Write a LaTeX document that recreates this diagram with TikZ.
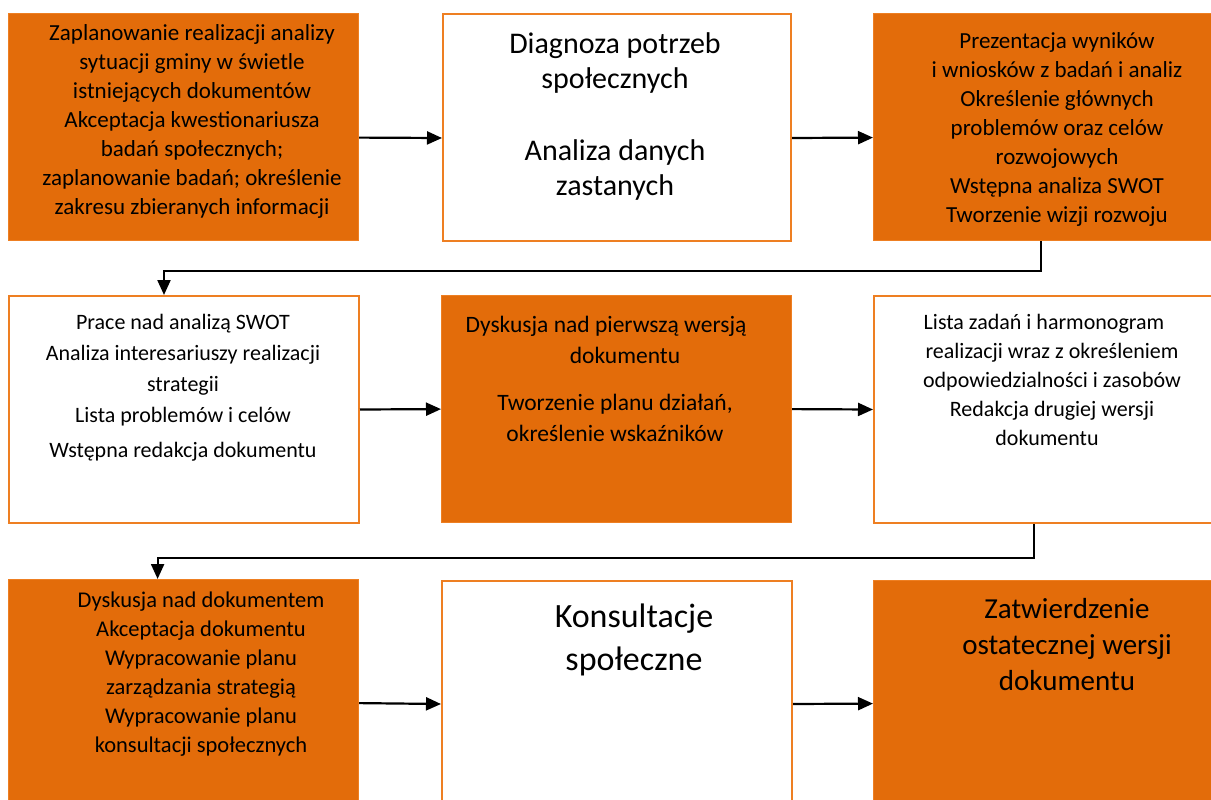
\documentclass[tikz,border=0pt]{standalone}
\usepackage{fontspec}
\setmainfont{Carlito}
\usetikzlibrary{arrows.meta}
\definecolor{orfill}{HTML}{E36C0A}
\definecolor{orline}{HTML}{EE7F22}
\tikzset{
  obox/.style={rectangle, draw=orline, fill=orfill, line width=1.2pt, inner sep=0pt, anchor=north west},
  wbox/.style={rectangle, draw=orline, fill=white, line width=2pt, inner sep=0pt, anchor=north west},
  txt/.style={align=center, inner sep=0pt, anchor=base, text=black},
  arr/.style={line width=2.2pt, -{Triangle[length=15pt,width=13pt]}},
}
\begin{document}
\begin{tikzpicture}[x=1pt,y=-1pt]
\useasboundingbox (0,0) rectangle (1211,800);
\clip (0,0) rectangle (1211,800);
% boxes
\node[obox, minimum width=350pt, minimum height=227pt] (b1) at (8,13) {};
\node[wbox, minimum width=348pt, minimum height=227pt] (b2) at (442,13) {};
\node[obox, minimum width=340pt, minimum height=227pt] (b3) at (873,13) {};
\node[wbox, minimum width=350pt, minimum height=227pt] (b4) at (8,295) {};
\node[obox, minimum width=350pt, minimum height=227pt] (b5) at (441,295) {};
\node[wbox, minimum width=340pt, minimum height=227pt] (b6) at (873,295) {};
\node[obox, minimum width=350pt, minimum height=226pt] (b7) at (8,579) {};
\node[wbox, minimum width=350pt, minimum height=225pt] (b8) at (441,580) {};
\node[obox, minimum width=340pt, minimum height=225pt] (b9) at (873,580) {};
% texts (anchored at the baseline of the last line)
\node[txt, font=\fontsize{23}{29}\selectfont] (t1) at (192,214) {Zaplanowanie realizacji analizy\\sytuacji gminy w świetle\\istniejących dokumentów\\Akceptacja kwestionariusza\\badań społecznych;\\zaplanowanie badań; określenie\\zakresu zbieranych informacji};
\node[txt, font=\fontsize{30}{35}\selectfont] (t2) at (615,195) {Diagnoza potrzeb\\społecznych\\[37pt]Analiza danych\\zastanych};
\node[txt, font=\fontsize{23}{29}\selectfont] (t3) at (1057,222) {Prezentacja wyników\\i wniosków z badań i analiz\\Określenie głównych\\problemów oraz celów\\rozwojowych\\Wstępna analiza SWOT\\Tworzenie wizji rozwoju};
\node[txt, font=\fontsize{22}{31}\selectfont] (t4) at (183,457) {Prace nad analizą SWOT\\Analiza interesariuszy realizacji\\strategii\\Lista problemów i celów\\[4pt]Wstępna redakcja dokumentu};
\node[txt, font=\fontsize{23.5}{31}\selectfont] (t5) at (615,441) {Dyskusja nad pierwszą wersją\hspace*{18pt}\\\hspace*{20pt}dokumentu\\[16pt]Tworzenie planu działań,\\określenie wskaźników};
\node[txt, font=\fontsize{22}{29}\selectfont] (t6) at (1052,445) {\hspace*{-16pt}Lista zadań i harmonogram\\realizacji wraz z określeniem\\odpowiedzialności i zasobów\\Redakcja drugiej wersji\\\hspace*{-10pt}dokumentu};
\node[txt, font=\fontsize{22.5}{29}\selectfont] (t7) at (201,752) {Dyskusja nad dokumentem\\Akceptacja dokumentu\\Wypracowanie planu\\zarządzania strategią\\Wypracowanie planu\\konsultacji społecznych};
\node[txt, font=\fontsize{34}{43}\selectfont] (t8) at (634,670) {Konsultacje\\społeczne};
\node[txt, font=\fontsize{29}{36}\selectfont] (t9) at (1067,690) {Zatwierdzenie\\ostatecznej wersji\\dokumentu};
% connectors
\draw[arr] ([yshift=-10.5pt]b1.east) -- ([yshift=-10.5pt]b2.west);
\draw[arr] ([yshift=-10.5pt]b2.east) -- ([yshift=-10.5pt]b3.west);
\draw[arr] (b4.east) -- (b5.west);
\draw[arr] (b5.east) -- (b6.west);
\draw[arr] ([yshift=-10.5pt]b7.east) -- ([yshift=-10.5pt]b8.west);
\draw[arr] ([yshift=-10.5pt]b8.east) -- ([yshift=-10.5pt]b9.west);
\draw[arr] ([xshift=-3pt]b3.south) -- ++(0,30) -| ([xshift=-20pt]b4.north);
\draw[arr] ([xshift=-10pt]b6.south) -- ++(0,34) -| ([xshift=-26pt]b7.north);
\end{tikzpicture}
\end{document}
